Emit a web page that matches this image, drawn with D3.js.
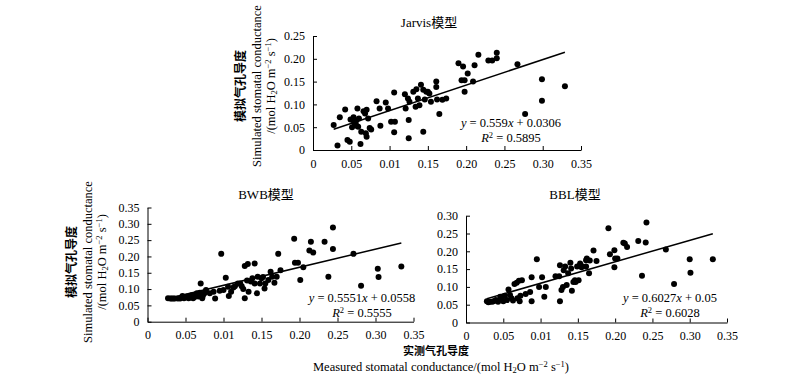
<!DOCTYPE html>
<html>
<head>
<meta charset="utf-8">
<script src="https://cdn.jsdelivr.net/npm/d3@7"></script>
<style>
  body { margin: 0; background: #fff; }
  svg text { font-family: "Liberation Serif", "Times New Roman", "Noto Sans CJK SC", serif; fill: #000; }
  .cjk { font-family: "Liberation Serif", "Noto Sans CJK SC", sans-serif; font-weight: bold; }
</style>
</head>
<body>
<script>
// ── DATA ───────────────────────────────────────────────────────
const xTicks      = [0, 0.05, 0.10, 0.15, 0.20, 0.25, 0.30, 0.35];
const xTickLabels = ["0", "0.05", "0.01", "0.15", "0.20", "0.25", "0.30", "0.35"];  // "0.01" as printed

const jarvisYTicks  = [0, 0.05, 0.10, 0.15, 0.20, 0.25];
const jarvisYLabels = ["0", "0.05", "0.10", "0.15", "0.20", "0.25"];
const bwbYTicks     = [0, 0.05, 0.10, 0.15, 0.20, 0.25, 0.30, 0.35];
const bwbYLabels    = ["0", "0.05", "0.10", "0.15", "0.20", "0.25", "0.30", "0.35"];
const bblYTicks     = [0, 0.05, 0.10, 0.15, 0.20, 0.25, 0.30];
const bblYLabels    = ["0", "0.05", "0.10", "0.15", "0.20", "0.25", "0.30"];

// [measured, simulated]
const jarvisPoints = [
  [0.027,0.055],[0.032,0.010],[0.035,0.072],[0.042,0.089],[0.045,0.022],[0.048,0.018],
  [0.049,0.067],[0.051,0.050],[0.052,0.066],[0.053,0.072],[0.054,0.060],[0.056,0.063],
  [0.057,0.053],[0.058,0.091],[0.059,0.051],[0.060,0.069],[0.062,0.013],[0.063,0.040],
  [0.066,0.085],[0.068,0.080],[0.069,0.037],[0.070,0.088],[0.070,0.029],[0.072,0.069],
  [0.074,0.048],[0.076,0.045],[0.083,0.107],[0.087,0.091],[0.088,0.053],[0.095,0.104],
  [0.098,0.091],[0.102,0.062],[0.107,0.062],[0.106,0.126],[0.106,0.039],[0.120,0.122],
  [0.121,0.091],[0.125,0.066],[0.125,0.026],[0.124,0.113],[0.126,0.106],[0.131,0.128],
  [0.134,0.095],[0.135,0.133],[0.137,0.113],[0.139,0.098],[0.141,0.143],[0.144,0.132],
  [0.144,0.040],[0.146,0.111],[0.148,0.128],[0.150,0.128],[0.152,0.124],[0.154,0.106],
  [0.161,0.150],[0.161,0.138],[0.162,0.111],[0.165,0.079],[0.169,0.110],[0.174,0.113],
  [0.190,0.190],[0.194,0.153],[0.196,0.183],[0.198,0.153],[0.198,0.128],[0.202,0.168],
  [0.209,0.150],[0.211,0.186],[0.216,0.209],[0.229,0.196],[0.234,0.196],[0.240,0.201],
  [0.240,0.213],[0.267,0.188],[0.277,0.079],[0.299,0.155],[0.299,0.108],[0.329,0.140]
];

const bwbPoints = [
  [0.027,0.072],[0.030,0.071],[0.032,0.071],[0.034,0.071],[0.036,0.071],[0.040,0.071],
  [0.043,0.071],[0.046,0.079],[0.048,0.072],[0.050,0.075],[0.052,0.077],[0.054,0.072],
  [0.056,0.074],[0.058,0.081],[0.060,0.072],[0.062,0.076],[0.063,0.080],[0.065,0.087],
  [0.067,0.077],[0.069,0.089],[0.070,0.117],[0.072,0.072],[0.073,0.080],[0.075,0.087],
  [0.077,0.097],[0.082,0.087],[0.087,0.092],[0.089,0.071],[0.095,0.095],[0.097,0.208],
  [0.100,0.097],[0.103,0.135],[0.106,0.107],[0.107,0.079],[0.110,0.092],[0.113,0.105],
  [0.115,0.109],[0.119,0.117],[0.122,0.117],[0.124,0.109],[0.126,0.100],[0.128,0.171],
  [0.128,0.072],[0.131,0.126],[0.132,0.177],[0.133,0.092],[0.136,0.123],[0.138,0.133],
  [0.141,0.117],[0.141,0.178],[0.144,0.087],[0.145,0.138],[0.148,0.117],[0.150,0.133],
  [0.152,0.137],[0.154,0.102],[0.155,0.117],[0.159,0.128],[0.162,0.153],[0.164,0.138],
  [0.167,0.119],[0.170,0.138],[0.172,0.208],[0.175,0.158],[0.193,0.254],[0.194,0.181],
  [0.198,0.181],[0.201,0.128],[0.205,0.167],[0.213,0.218],[0.215,0.245],[0.218,0.212],
  [0.233,0.245],[0.238,0.138],[0.244,0.289],[0.244,0.223],[0.271,0.208],[0.281,0.110],
  [0.303,0.162],[0.304,0.137],[0.334,0.169]
];

const bblPoints = [
  [0.028,0.060],[0.030,0.057],[0.032,0.058],[0.035,0.058],[0.037,0.060],[0.040,0.063],
  [0.043,0.058],[0.046,0.072],[0.048,0.065],[0.050,0.060],[0.052,0.075],[0.055,0.063],
  [0.057,0.093],[0.059,0.077],[0.061,0.068],[0.063,0.062],[0.065,0.108],[0.068,0.112],
  [0.069,0.068],[0.071,0.117],[0.072,0.060],[0.073,0.075],[0.075,0.119],[0.080,0.080],
  [0.086,0.086],[0.088,0.127],[0.088,0.060],[0.095,0.178],[0.098,0.100],[0.102,0.127],
  [0.105,0.072],[0.107,0.100],[0.120,0.130],[0.125,0.130],[0.126,0.161],[0.126,0.060],
  [0.128,0.091],[0.130,0.100],[0.131,0.147],[0.133,0.157],[0.135,0.105],[0.137,0.138],
  [0.140,0.168],[0.141,0.152],[0.142,0.089],[0.144,0.114],[0.146,0.119],[0.147,0.114],
  [0.149,0.157],[0.151,0.119],[0.153,0.166],[0.155,0.159],[0.155,0.155],[0.161,0.157],
  [0.161,0.175],[0.162,0.180],[0.165,0.138],[0.166,0.174],[0.171,0.202],[0.175,0.173],
  [0.191,0.265],[0.193,0.192],[0.199,0.203],[0.199,0.155],[0.200,0.180],[0.203,0.180],
  [0.211,0.224],[0.213,0.222],[0.216,0.212],[0.231,0.229],[0.236,0.131],[0.241,0.225],
  [0.242,0.281],[0.268,0.205],[0.279,0.108],[0.300,0.178],[0.301,0.140],[0.331,0.178]
];

// [slope, intercept, R²]
const jarvisFit = [0.559, 0.0306, 0.5895];
const bwbFit    = [0.5551, 0.0558, 0.5555];
const bblFit    = [0.6027, 0.05, 0.6028];

const eqTexts = ["0.559", "0.0306", "0.5551", "0.0558", "0.6027", "0.05"];

// ── SVG ────────────────────────────────────────────────────────
const svg = d3.select("body").append("svg")
  .attr("width", 800)
  .attr("height", 385);

// writes a text made of [string, mode] parts; mode: null | "i" | "sub" | "sup"
function rich(sel, parts, size) {
  parts.forEach(([s, mode]) => {
    const t = sel.append("tspan").text(s);
    if (mode === "i") t.attr("font-style", "italic");
    if (mode === "sub" || mode === "sup") {
      t.attr("font-size", size * 0.68)
       .attr("baseline-shift", mode === "sub" ? "-25%" : "45%");
    }
  });
}

const unitParts = [["/(mol H", null], ["2", "sub"], ["O m", null], ["\u22122", "sup"],
                   [" s", null], ["\u22121", "sup"], [")", null]];

function drawPanel(cfg) {
  const g = svg.append("g");

  const x = d3.scaleLinear().domain([0, 0.35]).range(cfg.xRange);
  const y = d3.scaleLinear().domain([0, d3.max(cfg.yTicks)]).range(cfg.yRange);

  // axes — ticks point inward like the original
  const xAxis = g.append("g")
    .attr("transform", `translate(0,${cfg.yRange[0]})`)
    .call(d3.axisBottom(x)
      .tickValues(xTicks)
      .tickFormat((d, i) => xTickLabels[i])
      .tickSizeInner(-4).tickSizeOuter(0).tickPadding(9));

  const yAxis = g.append("g")
    .attr("transform", `translate(${cfg.xRange[0]},0)`)
    .call(d3.axisLeft(y)
      .tickValues(cfg.yTicks)
      .tickFormat((d, i) => cfg.yLabels[i])
      .tickSizeInner(-4).tickSizeOuter(0).tickPadding(8));

  [xAxis, yAxis].forEach(a => {
    a.selectAll("text").attr("font-size", 12).attr("font-family", null);
    a.selectAll("path, line").attr("stroke", "#000").attr("stroke-width", 1);
  });

  // points
  g.selectAll("circle")
    .data(cfg.points)
    .join("circle")
      .attr("cx", d => x(d[0]))
      .attr("cy", d => y(d[1]))
      .attr("r", 3)
      .attr("fill", "#000");

  // regression line over the measured range
  const [slope, icpt] = cfg.fit;
  const ext = d3.extent(cfg.points, d => d[0]);
  const line = d3.line().x(d => x(d)).y(d => y(slope * d + icpt));
  g.append("path")
    .attr("d", line(ext))
    .attr("fill", "none")
    .attr("stroke", "#000")
    .attr("stroke-width", 1.5);

  // title
  g.append("text")
    .attr("x", cfg.title[1]).attr("y", cfg.title[2])
    .attr("text-anchor", "middle")
    .attr("font-size", 13)
    .text(cfg.title[0]);

  // equation
  const eq = g.append("text")
    .attr("x", cfg.eq[0]).attr("y", cfg.eq[1])
    .attr("text-anchor", "middle").attr("font-size", 12.5);
  rich(eq, [["y", "i"], [` = ${cfg.eqStr[0]}`, null], ["x", "i"], [` + ${cfg.eqStr[1]}`, null]], 12.5);

  const r2 = g.append("text")
    .attr("x", cfg.eq[0]).attr("y", cfg.eq[1] + 15)
    .attr("text-anchor", "middle").attr("font-size", 12.5);
  rich(r2, [["R", "i"], ["2", "sup"], [` = ${cfg.fit[2].toFixed(4)}`, null]], 12.5);

  // y-axis label block (three rotated lines)
  if (cfg.ylab) {
    const [cx1, cx2, cx3, cy] = cfg.ylab;
    g.append("text").attr("class", "cjk")
      .attr("transform", `translate(${cx1},${cy}) rotate(-90)`)
      .attr("text-anchor", "middle").attr("dy", "0.35em")
      .attr("font-size", 12)
      .text("模拟气孔导度");
    g.append("text")
      .attr("transform", `translate(${cx2},${cy}) rotate(-90)`)
      .attr("text-anchor", "middle").attr("dy", "0.35em")
      .attr("font-size", 12.5)
      .text("Simulated stomatal conductance");
    const u = g.append("text")
      .attr("transform", `translate(${cx3},${cy}) rotate(-90)`)
      .attr("text-anchor", "middle").attr("dy", "0.35em")
      .attr("font-size", 12.5);
    rich(u, unitParts, 12.5);
  }
}

drawPanel({
  xRange: [313, 581], yRange: [150, 36],
  yTicks: jarvisYTicks, yLabels: jarvisYLabels,
  points: jarvisPoints, fit: jarvisFit, eqStr: [eqTexts[0], eqTexts[1]],
  title: ["Jarvis模型", 429, 27],
  eq: [511, 127],
  ylab: [241, 257, 271, 86]
});

drawPanel({
  xRange: [147.5, 413.5], yRange: [321.7, 207.5],
  yTicks: bwbYTicks, yLabels: bwbYLabels,
  points: bwbPoints, fit: bwbFit, eqStr: [eqTexts[2], eqTexts[3]],
  title: ["BWB模型", 266, 199],
  eq: [362, 302],
  ylab: [72, 88, 102, 262]
});

drawPanel({
  xRange: [466, 727], yRange: [322.5, 215.7],
  yTicks: bblYTicks, yLabels: bblYLabels,
  points: bblPoints, fit: bblFit, eqStr: [eqTexts[4], eqTexts[5]],
  title: ["BBL模型", 575, 199],
  eq: [670, 302],
  ylab: null
});

// ── SHARED X TITLE ─────────────────────────────────────────────
svg.append("text").attr("class", "cjk")
  .attr("x", 436).attr("y", 355)
  .attr("text-anchor", "middle")
  .attr("font-size", 11)
  .text("实测气孔导度");

const xt = svg.append("text")
  .attr("x", 441).attr("y", 371)
  .attr("text-anchor", "middle")
  .attr("font-size", 12.5);
rich(xt, [["Measured stomatal conductance", null]].concat(unitParts), 12.5);
</script>
</body>
</html>
